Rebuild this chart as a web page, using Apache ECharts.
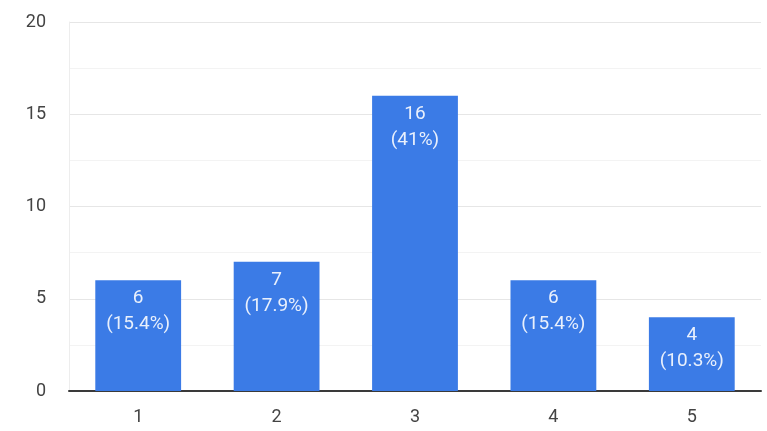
<!DOCTYPE html>
<html>
<head>
<meta charset="utf-8">
<script src="https://cdn.jsdelivr.net/npm/echarts@6/dist/echarts.min.js"></script>
<style>html,body{margin:0;padding:0;background:#fff;}#c{width:767px;height:431px;}</style>
</head>
<body>
<div id="c"></div>
<script>
const categories = ['1', '2', '3', '4', '5'];
const counts = [6, 7, 16, 6, 4];
const percents = ['15.4%', '17.9%', '41%', '15.4%', '10.3%'];
const yTicks = [0, 5, 10, 15, 20];

const chart = echarts.init(document.getElementById('c'));
chart.setOption({
  animation: false,
  grid: { left: 69, right: 6, top: 22, bottom: 40 },
  xAxis: {
    type: 'category',
    data: categories,
    axisTick: { show: false },
    axisLine: { lineStyle: { color: '#3a3a3a', width: 2 } },
    axisLabel: { color: '#444', fontSize: 18, margin: 17, fontFamily: 'Roboto' }
  },
  yAxis: {
    type: 'value',
    min: yTicks[0],
    max: yTicks[yTicks.length - 1],
    interval: 5,
    axisLine: { show: true, lineStyle: { color: '#ededed', width: 1 } },
    axisTick: { show: false },
    axisLabel: { color: '#444', fontSize: 18, margin: 23, fontFamily: 'Roboto' },
    splitLine: { lineStyle: { color: '#e6e6e6', width: 1 } },
    minorTick: { show: false, splitNumber: 2 },
    minorSplitLine: { show: true, lineStyle: { color: '#f3f3f3', width: 1 } }
  },
  series: [{
    type: 'bar',
    data: counts,
    barWidth: '62%',
    itemStyle: { color: '#3b7be6' },
    label: {
      show: true,
      position: 'insideTop',
      distance: 5,
      color: '#e9f0fc',
      fontSize: 19,
      lineHeight: 26,
      fontFamily: 'Roboto',
      formatter: p => counts[p.dataIndex] + '\n(' + percents[p.dataIndex] + ')'
    }
  }]
});
</script>
</body>
</html>
